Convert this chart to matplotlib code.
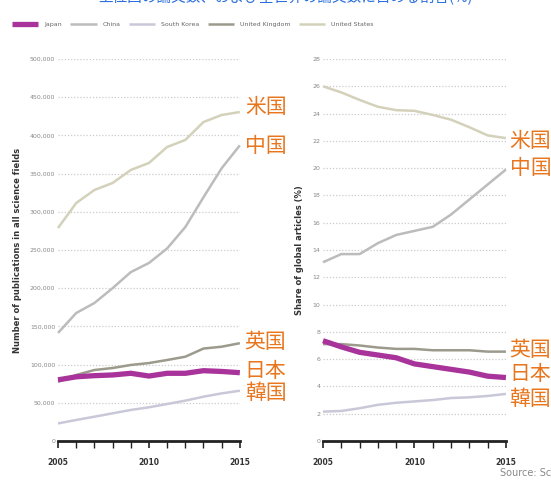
import matplotlib
matplotlib.use("Agg")
from matplotlib import pyplot as plt
from matplotlib.ticker import FuncFormatter, MultipleLocator

plt.rcParams['font.family'] = ['DejaVu Sans', 'Noto Sans CJK JP']

years = list(range(2005, 2016))
countries = ['Japan', 'China', 'South Korea', 'United Kingdom', 'United States']
labels_jp = {'Japan': '日本', 'China': '中国', 'South Korea': '韓国',
             'United Kingdom': '英国', 'United States': '米国'}

# number of publications
pubs_japan = [80000, 84000, 85500, 86400, 88600, 85000, 88600, 88600, 92000, 91000, 89400]
pubs_china = [141400, 167500, 180600, 200000, 221000, 233000, 252000, 280000, 319000, 357000, 387000]
pubs_korea = [23000, 27500, 31800, 36200, 40600, 44100, 48400, 52800, 58000, 62300, 65800]
pubs_uk = [77600, 86400, 92900, 95500, 99500, 102000, 106000, 110300, 121000, 123400, 128000]
pubs_us = [278800, 311500, 328500, 337700, 354700, 363900, 384800, 394000, 417500, 426700, 430600]

# share of global articles (%)
share_japan = [7.35, 6.9, 6.5, 6.3, 6.1, 5.65, 5.45, 5.25, 5.05, 4.75, 4.65]
share_china = [13.1, 13.7, 13.7, 14.5, 15.1, 15.4, 15.7, 16.6, 17.7, 18.8, 19.9]
share_korea = [2.15, 2.2, 2.4, 2.65, 2.8, 2.9, 3.0, 3.15, 3.2, 3.3, 3.45]
share_uk = [7.1, 7.1, 7.0, 6.85, 6.75, 6.75, 6.65, 6.65, 6.65, 6.55, 6.55]
share_us = [26.0, 25.55, 25.0, 24.5, 24.25, 24.2, 23.9, 23.55, 23.0, 22.4, 22.2]

# where the japanese labels sit (data units)
label_y_pubs = {'United States': 437000, 'China': 386000, 'United Kingdom': 129600,
                'Japan': 91600, 'South Korea': 62800}
label_y_share = {'United States': 22.0, 'China': 20.0, 'United Kingdom': 6.7,
                 'Japan': 4.9, 'South Korea': 3.1}

colors = {'Japan': '#a8339b', 'China': '#bdbcbc', 'South Korea': '#c9c8d8',
          'United Kingdom': '#9b9a8c', 'United States': '#d4d1bb'}
widths = {'Japan': 3.8, 'China': 1.8, 'South Korea': 1.8,
          'United Kingdom': 1.8, 'United States': 1.8}
order = ['South Korea', 'China', 'United States', 'United Kingdom', 'Japan']


def style_axes(ax, ylim, ystep, fmt):
    ax.set_xlim(2005, 2015)
    ax.set_ylim(*ylim)
    for s in ['top', 'right', 'left']:
        ax.spines[s].set_visible(False)
    ax.spines['bottom'].set_linewidth(2.0)
    ax.spines['bottom'].set_color('#222222')
    ax.yaxis.set_major_locator(MultipleLocator(ystep))
    ax.yaxis.set_major_formatter(FuncFormatter(fmt))
    ax.xaxis.set_major_locator(MultipleLocator(5))
    ax.xaxis.set_minor_locator(MultipleLocator(1))
    ax.tick_params(axis='y', length=0, labelsize=4.5, labelcolor='#888888', pad=2)
    ax.tick_params(axis='x', which='major', length=5, width=1.2, labelsize=5.5,
                   pad=7, color='#222222')
    ax.tick_params(axis='x', which='minor', length=5, width=1.0, color='#222222')
    for lab in ax.get_xticklabels():
        lab.set_fontweight('bold')
        lab.set_color('#333333')
    ax.yaxis.grid(True, linestyle=(0, (1, 1.5)), color='#cccccc', linewidth=0.9)
    ax.set_axisbelow(True)


fig = plt.figure(figsize=(5.51, 4.82), dpi=100)
ax1 = fig.add_axes([0.1053, 0.0851, 0.330, 0.7925])
ax2 = fig.add_axes([0.5862, 0.0851, 0.332, 0.7925])

pubs = {'Japan': pubs_japan, 'China': pubs_china, 'South Korea': pubs_korea,
        'United Kingdom': pubs_uk, 'United States': pubs_us}
share = {'Japan': share_japan, 'China': share_china, 'South Korea': share_korea,
         'United Kingdom': share_uk, 'United States': share_us}

handles = {}
for c in order:
    line, = ax1.plot(years, pubs[c], color=colors[c], lw=widths[c],
                     solid_capstyle='butt', clip_on=False, label=c)
    handles[c] = line
    ax2.plot(years, share[c], color=colors[c], lw=widths[c],
             solid_capstyle='butt', clip_on=False)

style_axes(ax1, (0, 500000), 50000, lambda v, p: '{:,.0f}'.format(v))
style_axes(ax2, (0, 28), 2, lambda v, p: '{:.0f}'.format(v))

ax1.set_ylabel('Number of publications in all science fields', fontsize=6,
               fontweight='bold', color='#333333', labelpad=6)
ax2.set_ylabel('Share of global articles (%)', fontsize=6,
               fontweight='bold', color='#333333', labelpad=6)

for c in countries:
    ax1.text(1.027, label_y_pubs[c], labels_jp[c], transform=ax1.get_yaxis_transform(),
             fontsize=15, color='#e8761e', va='center', ha='left',
             family=['Noto Sans CJK JP'])
    ax2.text(1.02, label_y_share[c], labels_jp[c], transform=ax2.get_yaxis_transform(),
             fontsize=15, color='#e8761e', va='center', ha='left',
             family=['Noto Sans CJK JP'])

fig.legend([handles[c] for c in countries], countries, loc='center left',
           bbox_to_anchor=(0.012, 0.95), ncol=5, frameon=False, fontsize=4.5,
           handlelength=4.2, columnspacing=1.4, handletextpad=0.9,
           labelcolor='#666666')

# cropped header of the original figure (only its lower edge shows)
fig.text(0.055, 1.006, 'FIGURE 5.1', fontsize=7.5, fontweight='bold', color='#333333',
         va='center')
fig.text(0.178, 1.006, '上位国の論文数、および全世界の論文数に占める割合(%)', fontsize=10.5,
         color='#2a6fdc', va='center', family=['Noto Sans CJK JP'])

fig.text(0.907, 0.008, 'Source: Science-Metrix', fontsize=7, color='#888888',
         va='bottom', ha='left')

fig.savefig('out.png', dpi=100)
